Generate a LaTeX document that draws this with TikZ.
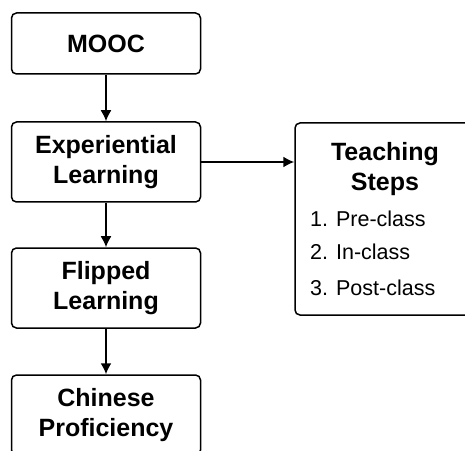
\documentclass[tikz,border=0pt]{standalone}
\usepackage{fontspec}
\setmainfont{Liberation Sans}
\usetikzlibrary{arrows.meta,positioning}
\tikzset{box/.style={draw, line width=1.5pt, rounded corners=5pt, minimum width=189pt, minimum height=80pt, align=center, font=\bfseries\fontsize{25}{30}\selectfont},
	conn/.style={draw, line width=1.7pt, -{Latex[length=11pt,width=11pt]}},
	item/.style={anchor=base west, inner sep=0pt, font=\fontsize{21.5}{26}\selectfont}}

\begin{document}
\begin{tikzpicture}[x=1pt, y=1pt]
	\useasboundingbox (0,0) rectangle (465,450);
	\clip (0,0) rectangle (465,450);
	% linke Spalte
	\node[box, minimum height=61pt] (mooc) at (106,406.5) {MOOC};
	\node[box] (exp) at (106,288) {Experiential\\Learning};
	\node[box] (flip) at (106,162) {Flipped\\Learning};
	\node[box] (chin) at (106,35) {Chinese\\Proficiency};
	% rechte Box
	\node[box, minimum width=180pt, minimum height=192pt] (steps) at (385,231) {};
	\node[anchor=north, inner sep=0pt, align=center, font=\bfseries\fontsize{25}{30}\selectfont] (title) at (385,308) {Teaching\\Steps};
	\node[item] (pre) at (310,223) {1. Pre-class};
	\node[item] (in) at (310,190) {2. In-class};
	\node[item] (post) at (310,155) {3. Post-class};
	% Pfeile
	\draw[conn] (mooc) -- (exp);
	\draw[conn] (exp) -- (flip);
	\draw[conn] (flip) -- (chin);
	\draw[conn] (exp.east) -- (exp.east -| steps.west);
\end{tikzpicture}
\end{document}
